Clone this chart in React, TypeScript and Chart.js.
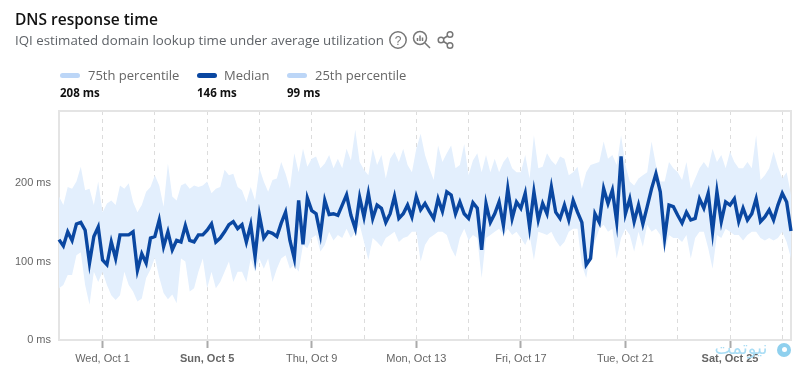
import React, { useEffect, useRef } from "react";
import { Chart, registerables } from "chart.js";

Chart.register(...registerables);

const seriesStart = Date.UTC(2025, 8, 29, 8);
const stepHours = 4;

const yTicks = [0, 100, 200];

const median = [
  128,120,138,127,148,150,140,98,132,144,102,96,125,104,134,134,134,138,89,110,98,
  130,132,153,119,138,115,127,125,146,127,125,134,134,140,148,125,130,138,147,151,142,
  147,125,147,106,159,130,138,136,132,149,163,127,104,178,122,181,165,161,134,178,160,161,
  159,172,185,159,142,182,157,187,155,172,168,150,161,183,155,161,172,157,183,166,174,
  164,155,180,164,189,185,161,176,161,155,175,168,115,174,150,161,176,146,193,155,176,
  168,187,144,189,153,174,161,195,163,155,172,153,178,163,150,96,104,161,150,193,174,
  191,151,234,161,180,151,172,148,170,193,212,189,130,172,170,159,149,163,153,155,180,
  168,187,138,189,151,176,172,180,151,168,153,161,180,151,157,166,153,172,187,176,139,
];

const p75 = [
  183,172,195,193,202,221,191,193,172,202,163,174,178,172,197,193,200,176,163,172,189,
  195,210,197,170,225,183,178,197,200,193,197,195,197,202,187,193,195,217,210,212,195,
  191,176,195,178,219,202,189,204,206,227,212,193,238,214,244,221,231,234,219,225,236,219,
  231,219,244,229,268,227,217,210,244,223,236,206,231,240,227,244,223,214,244,263,236,
  219,204,248,227,238,248,219,223,250,210,229,238,214,236,214,231,214,227,234,219,214,
  214,236,206,261,219,221,238,229,223,234,231,210,214,221,193,214,223,225,227,253,231,
  236,223,261,223,202,197,206,210,214,253,223,202,202,227,219,214,204,227,193,206,219,
  227,219,244,227,236,219,240,227,219,219,227,219,261,204,210,219,240,221,206,214,185,
];

const p25 = [
  66,70,83,83,108,112,70,45,87,74,87,70,57,51,57,87,70,62,49,53,79,
  90,105,80,60,52,58,47,104,100,62,66,87,104,66,87,66,74,87,100,74,87,
  87,74,104,87,104,91,104,74,91,104,108,91,96,87,121,117,130,134,113,121,138,127,
  134,130,142,130,138,147,125,102,130,125,119,130,134,138,125,130,132,138,138,100,121,
  130,134,138,138,134,117,106,130,142,127,134,130,79,130,134,138,142,134,142,134,138,
  130,121,134,102,138,136,134,138,127,119,125,138,142,142,96,79,113,125,142,147,138,
  142,104,130,142,134,113,138,119,147,138,142,134,113,134,130,130,125,134,104,130,138,
  138,117,91,134,130,142,138,134,134,127,134,138,138,130,127,130,127,130,138,125,104,
];

const legendItems = [
  { name: "75th percentile", value: "208 ms", color: "#bcd6f7", left: 60, textLeft: 88 },
  { name: "Median", value: "146 ms", color: "#0a47a1", left: 197, textLeft: 224 },
  { name: "25th percentile", value: "99 ms", color: "#bcd6f7", left: 287, textLeft: 315 },
];

const pointDates = median.map((_, i) => new Date(seriesStart + i * stepHours * 3600000));
const categories = pointDates.map((d) =>
  d.toLocaleDateString("en-US", { weekday: "short", month: "short", day: "numeric", timeZone: "UTC" })
);
const isMidnight = (i: number) => pointDates[i]?.getUTCHours() === 0;
const dayOfRange = (i: number) => Math.round((pointDates[i].getTime() - Date.UTC(2025, 8, 29)) / 86400000);
const isGridTick = (i: number) => isMidnight(i) && dayOfRange(i) % 2 === 0;
const isLabelTick = (i: number) => isMidnight(i) && dayOfRange(i) % 4 === 2;
const isWeekendLabel = (i: number) => {
  const wd = pointDates[i].getUTCDay();
  return wd === 0 || wd === 6;
};

const plotFrame = {
  id: "plotFrame",
  beforeDatasetsDraw(chart: any) {
    const { ctx, chartArea: a } = chart;
    ctx.save();
    ctx.strokeStyle = "#e4e4e4";
    ctx.lineWidth = 2;
    ctx.strokeRect(a.left, a.top, a.right - a.left, a.bottom - a.top);
    ctx.restore();
  },
};

const textFont = "'Open Sans', 'Noto Sans', sans-serif";

export default function App() {
  const ref = useRef<HTMLCanvasElement>(null);

  useEffect(() => {
    const chart = new Chart(ref.current!, {
      type: "line",
      plugins: [plotFrame],
      data: {
        labels: categories,
        datasets: [
          { label: "75th percentile", data: p75, borderWidth: 0, pointRadius: 0, fill: "+1", backgroundColor: "#e3effd", order: 3 },
          { label: "25th percentile", data: p25, borderWidth: 0, pointRadius: 0, fill: false, order: 2 },
          { label: "Median", data: median, borderColor: "#0a47a1", borderWidth: 3.4, pointRadius: 0, fill: false, tension: 0, order: 1, borderJoinStyle: "miter", clip: false as any },
        ],
      },
      options: {
        animation: false,
        responsive: false,
        layout: { padding: { top: 111, right: 20, left: 0, bottom: 0 } },
        plugins: { legend: { display: false }, tooltip: { enabled: false }, title: { display: false } },
        scales: {
          x: {
            type: "category",
            afterFit(scale: any) { scale.height = 37; },
            border: { display: false, dash: [4, 4] },
            grid: {
              drawOnChartArea: true,
              color: (c: any) => (isGridTick(c.index) ? "#dcdcdc" : "rgba(0,0,0,0)"),
              tickColor: (c: any) => (isLabelTick(c.index) ? "#aaaaaa" : "rgba(0,0,0,0)"),
              tickWidth: 2,
              tickLength: 8,
              lineWidth: 1,
              tickBorderDash: [],
            } as any,
            ticks: {
              autoSkip: false,
              maxRotation: 0,
              minRotation: 0,
              padding: 4,
              color: "#666666",
              font: (c: any) => ({ family: "'Liberation Sans', Arial, sans-serif", size: 11, weight: c.index !== undefined && isWeekendLabel(c.index) ? "bold" : "normal" }),
              callback: (_v: any, i: number) => (isLabelTick(i) ? categories[i] : ""),
            } as any,
          },
          y: {
            min: 0,
            max: 292,
            afterFit(scale: any) { scale.width = 59; },
            afterBuildTicks(scale: any) { scale.ticks = yTicks.map((value) => ({ value })); },
            border: { display: false },
            grid: { display: false },
            ticks: {
              padding: 0,
              color: "#666666",
              font: { family: "'Liberation Sans', Arial, sans-serif", size: 11 },
              callback: (v: any) => `${v} ms`,
            } as any,
          },
        },
      },
    } as any);
    return () => chart.destroy();
  }, []);

  return (
    <div style={{ position: "fixed", left: 0, top: 0, width: 811, height: 377, background: "#fff", overflow: "hidden" }}>
      <canvas ref={ref} width={811} height={377} style={{ position: "absolute", left: 0, top: 0, width: 811, height: 377 }} />
      <div style={{ position: "absolute", left: 15, top: 9, font: `600 15.5px ${textFont}`, lineHeight: "20px", color: "#111", whiteSpace: "nowrap" }}>DNS response time</div>
      <div style={{ position: "absolute", left: 15, top: 30, font: `400 13.3px ${textFont}`, lineHeight: "20px", color: "#5f6368", whiteSpace: "nowrap" }}>IQI estimated domain lookup time under average utilization</div>
      <svg style={{ position: "absolute", left: 388, top: 28 }} width={70} height={24} fill="none" stroke="#777" strokeWidth={1.5}>
        <circle cx={10} cy={12} r={8.2} />
        <text x={10} y={16.5} textAnchor="middle" fontSize={12} fontFamily="Liberation Sans" fill="#777" stroke="none">?</text>
        <circle cx={32} cy={10} r={6.5} />
        <path d="M37 15 L42 20 M29.5 13 V10 M32 13 V7.5 M34.5 13 V9.5" />
        <circle cx={53} cy={12} r={2.8} />
        <circle cx={62} cy={6.5} r={2.8} />
        <circle cx={62} cy={17.5} r={2.8} />
        <path d="M55.5 10.5 L59.5 8 M55.5 13.5 L59.5 16" />
      </svg>
      {legendItems.map((it) => (
        <React.Fragment key={it.name}>
          <div style={{ position: "absolute", left: it.left, top: 73, width: 20, height: 5, borderRadius: 3, background: it.color }} />
          <div style={{ position: "absolute", left: it.textLeft, top: 66, font: `400 13px ${textFont}`, lineHeight: "18px", color: "#666", whiteSpace: "nowrap" }}>{it.name}</div>
          <div style={{ position: "absolute", left: it.left, top: 85, font: `700 11.5px ${textFont}`, lineHeight: "16px", color: "#111", whiteSpace: "nowrap" }}>{it.value}</div>
        </React.Fragment>
      ))}
      <div dir="rtl" style={{ position: "absolute", left: 708, top: 337, width: 66, font: `400 18px 'DejaVu Sans', sans-serif`, lineHeight: "22px", color: "#a9ddf5", whiteSpace: "nowrap", textAlign: "center" }}>نیوتمت</div>
      <div style={{ position: "absolute", left: 777, top: 343, width: 14, height: 14, borderRadius: 7, background: "#8fd0ee" }} />
      <div style={{ position: "absolute", left: 782, top: 347, width: 5, height: 5, borderRadius: 3, background: "#fff" }} />
    </div>
  );
}
